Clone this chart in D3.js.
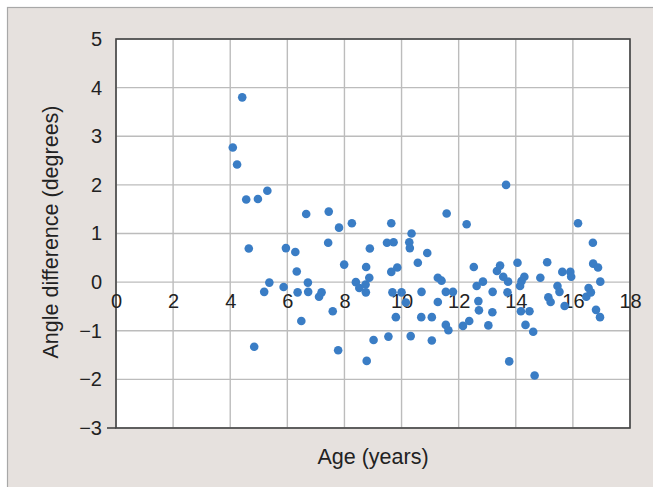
<!DOCTYPE html>
<html>
<head>
<meta charset="utf-8">
<script src="https://cdn.jsdelivr.net/npm/d3@7"></script>
<style>
  html, body { margin: 0; padding: 0; background: #fff; }
  svg { display: block; font-family: "Liberation Sans", Arial, sans-serif; }
</style>
</head>
<body>
<div id="chart"></div>
<script>
// ages (years) and angle differences (degrees)
const ages = [
  4.09, 4.24, 4.42, 4.56, 4.65, 4.84, 4.97, 5.19, 5.30, 5.37,
  5.87, 5.95, 6.28, 6.33, 6.36, 6.49, 6.66, 6.72, 6.73, 7.11,
  7.20, 7.43, 7.45, 7.59, 7.78, 7.81, 7.99, 8.26, 8.40, 8.52,
  8.74, 8.75, 8.76, 8.78, 8.87, 8.89, 9.02, 9.49, 9.54, 9.64,
  9.64, 9.68, 9.72, 9.80, 9.85, 10.00, 10.15, 10.27, 10.29, 10.32,
  10.35, 10.57, 10.69, 10.70, 10.90, 11.06, 11.06, 11.27, 11.27, 11.40,
  11.55, 11.55, 11.58, 11.64, 11.80, 12.15, 12.28, 12.37, 12.53, 12.63,
  12.69, 12.71, 12.85, 13.04, 13.18, 13.19, 13.34, 13.45, 13.56, 13.66,
  13.71, 13.73, 13.77, 14.06, 14.15, 14.18, 14.20, 14.30, 14.34, 14.48,
  14.61, 14.66, 14.86, 15.10, 15.14, 15.22, 15.46, 15.53, 15.63, 15.71,
  15.91, 15.94, 16.18, 16.47, 16.55, 16.63, 16.70, 16.71, 16.81, 16.88,
  16.95, 16.96
];
const angleDiffs = [
  2.77, 2.42, 3.80, 1.70, 0.69, -1.33, 1.71, -0.20, 1.88, -0.01,
  -0.10, 0.70, 0.62, 0.22, -0.21, -0.80, 1.40, -0.01, -0.20, -0.30,
  -0.21, 0.81, 1.45, -0.60, -1.40, 1.12, 0.36, 1.21, 0.00, -0.12,
  -0.05, -0.21, 0.31, -1.62, 0.09, 0.69, -1.19, 0.81, -1.12, 1.21,
  0.21, -0.21, 0.82, -0.72, 0.30, -0.21, -0.42, 0.82, 0.70, -1.11,
  1.00, 0.40, -0.72, -0.20, 0.60, -0.72, -1.20, 0.09, -0.41, 0.03,
  -0.20, -0.88, 1.41, -0.99, -0.20, -0.90, 1.19, -0.80, 0.31, -0.08,
  -0.39, -0.58, 0.01, -0.89, -0.62, -0.20, 0.23, 0.34, 0.11, 2.00,
  -0.21, 0.01, -1.63, 0.40, -0.08, -0.60, 0.02, 0.11, -0.88, -0.60,
  -1.02, -1.92, 0.09, 0.41, -0.31, -0.41, -0.08, -0.20, 0.21, -0.49,
  0.21, 0.11, 1.21, -0.30, -0.12, -0.21, 0.81, 0.38, -0.57, 0.30,
  -0.72, 0.01
];
const xTicks = [0, 2, 4, 6, 8, 10, 12, 14, 16, 18];
const yTicks = [-3, -2, -1, 0, 1, 2, 3, 4, 5];

const width = 653, height = 487;
const margin = {top: 39, right: 23, bottom: 59, left: 116};
const iw = width - margin.left - margin.right;
const ih = height - margin.top - margin.bottom;

const svg = d3.select("#chart").append("svg")
  .attr("width", width)
  .attr("height", height);

// outer panel
svg.append("rect")
  .attr("x", 7.5).attr("y", 7.5)
  .attr("width", width).attr("height", height)
  .attr("fill", "#e6e1de")
  .attr("stroke", "#a8a8a8")
  .attr("stroke-width", 1.2);

const x = d3.scaleLinear().domain([0, 18]).range([0, iw]);
const y = d3.scaleLinear().domain([-3, 5]).range([ih, 0]);

const g = svg.append("g").attr("transform", `translate(${margin.left},${margin.top})`);

g.append("rect")
  .attr("width", iw).attr("height", ih)
  .attr("fill", "#fff");

// grid
g.append("g")
  .selectAll("line")
  .data(xTicks)
  .join("line")
  .attr("x1", d => x(d)).attr("x2", d => x(d))
  .attr("y1", 0).attr("y2", ih)
  .attr("stroke", "#bcbcbc").attr("stroke-width", 1.4);

g.append("g")
  .selectAll("line")
  .data(yTicks)
  .join("line")
  .attr("x1", 0).attr("x2", iw)
  .attr("y1", d => y(d)).attr("y2", d => y(d))
  .attr("stroke", "#bcbcbc").attr("stroke-width", 1.4);

// frame
g.append("rect")
  .attr("width", iw).attr("height", ih)
  .attr("fill", "none")
  .attr("stroke", "#444")
  .attr("stroke-width", 1.6);

// small tick left of the bottom corner
g.append("line")
  .attr("x1", -9).attr("x2", 0)
  .attr("y1", y(-3)).attr("y2", y(-3))
  .attr("stroke", "#444").attr("stroke-width", 1.6);

// y axis labels
const yAxis = g.append("g")
  .call(d3.axisLeft(y).tickValues(yTicks).tickSize(0).tickPadding(14)
    .tickFormat(d => d < 0 ? "\u2212" + Math.abs(d) : d));
yAxis.select(".domain").remove();
yAxis.selectAll("text")
  .attr("font-size", 20)
  .attr("fill", "#222")
  .attr("font-family", "Liberation Sans, Arial, sans-serif");

// x axis labels sit along the zero line
const xAxis = g.append("g")
  .attr("transform", `translate(0,${y(0)})`)
  .call(d3.axisBottom(x).tickValues(xTicks).tickSize(0).tickPadding(12));
xAxis.select(".domain").remove();
xAxis.selectAll("text")
  .attr("font-size", 20)
  .attr("fill", "#222")
  .attr("font-family", "Liberation Sans, Arial, sans-serif");

// points
const pts = ages.map((a, i) => ({age: a, diff: angleDiffs[i]}));
g.append("g")
  .selectAll("circle")
  .data(pts)
  .join("circle")
  .attr("cx", d => x(d.age))
  .attr("cy", d => y(d.diff))
  .attr("r", 4.3)
  .attr("fill", "#3a7dc5");

// axis titles
svg.append("text")
  .attr("x", margin.left + iw / 2)
  .attr("y", 464)
  .attr("text-anchor", "middle")
  .attr("font-size", 21.5)
  .attr("fill", "#222")
  .text("Age (years)");

svg.append("text")
  .attr("transform", `translate(58,${margin.top + 193}) rotate(-90)`)
  .attr("text-anchor", "middle")
  .attr("font-size", 21.5)
  .attr("fill", "#222")
  .text("Angle difference (degrees)");
</script>
</body>
</html>
